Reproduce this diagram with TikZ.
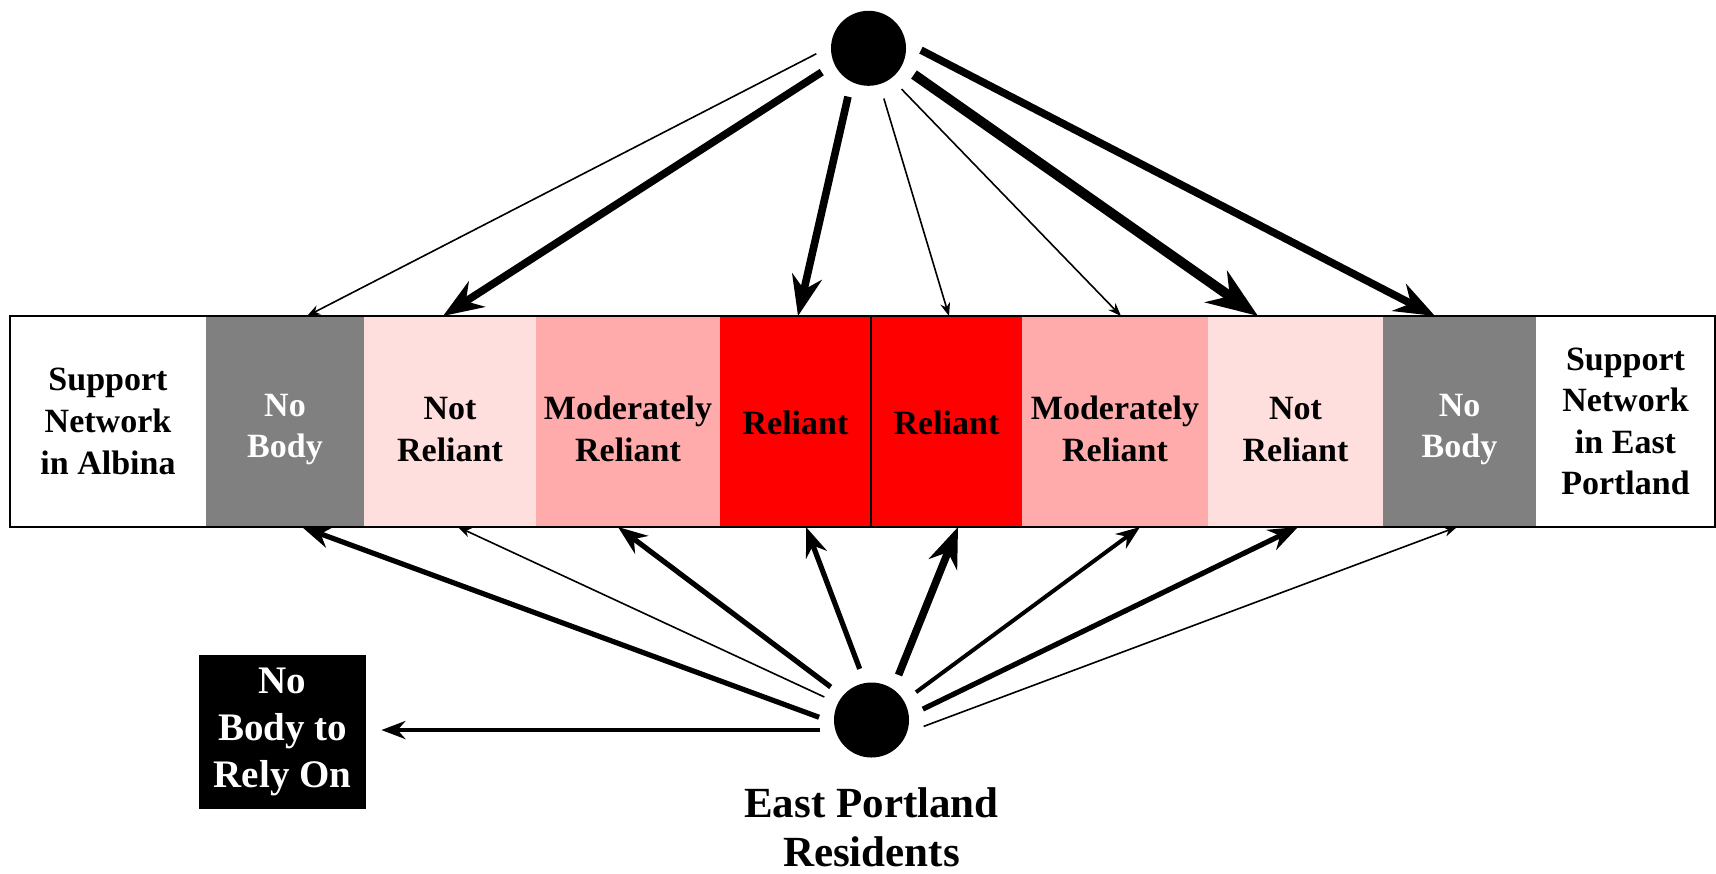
\documentclass[tikz,border=0pt]{standalone}
\usepackage{fontspec}
\setmainfont{Liberation Serif}
\usetikzlibrary{positioning, arrows.meta}

\begin{document}
\begin{tikzpicture}[x=0.5pt,y=-0.5pt,font=\bfseries\fontsize{17}{20.8}\selectfont,>={Stealth},node distance=0pt,
  c/.style={minimum width=#1,minimum height=105.5pt,inner sep=0pt,outer sep=0pt,align=center},
  two/.style={text height=40pt},
  dot/.style={circle,fill,minimum size=37.5pt,inner sep=0pt,outer sep=7.5pt},
  w1/.style={->,line width=.8pt},w2/.style={->,line width=2pt},w3/.style={->,line width=2.6pt},
  w4/.style={->,line width=3.8pt},w5/.style={->,line width=5pt}]
  \useasboundingbox (0,0) rectangle (1716,873);
  % the bar of support levels
  \node[c=98pt](alb) at (108,421.5){Support\\Network\\in Albina};
  \node[c=79pt,two,fill=black!50,text=white,right=of alb](nb1){No\\Body};
  \node[c=86pt,two,fill=red!13,right=of nb1](nr1){Not\\Reliant};
  \node[c=92pt,two,fill=red!33,right=of nr1](mr1){Moderately\\Reliant};
  \node[c=75.5pt,text height=13pt,fill=red,right=of mr1](r1){Reliant};
  \node[c=75.5pt,text height=13pt,fill=red,right=of r1](r2){Reliant};
  \node[c=93pt,two,fill=red!33,right=of r2](mr2){Moderately\\Reliant};
  \node[c=87.5pt,two,fill=red!13,right=of mr2](nr2){Not\\Reliant};
  \node[c=76.5pt,two,fill=black!50,text=white,right=of nr2](nb2){No\\Body};
  \node[c=89.5pt,right=of nb2](ep){Support\\Network\\in East\\Portland};
  \draw[line width=1pt](alb.north west) rectangle (ep.south east);
  \draw[line width=1pt](r1.north east)--(r1.south east);
  % the two groups
  \node[dot](top) at (868.5,48.3){};
  \node[dot](res) at (871.5,720){};
  \node[below=7.5pt of res,inner sep=0pt,align=center,font=\bfseries\fontsize{21.5}{24.5}\selectfont](lbl){East Portland\\Residents};
  \node[fill=black,text=white,minimum width=83.5pt,minimum height=77pt,inner sep=0pt,align=center,
    font=\bfseries\fontsize{19.5}{23.5}\selectfont](none) at (282.5,732){No\\Body to\\Rely On};
  % from the top
  \draw[w1](top.186)--([xshift=11pt]nb1.north);\draw[w4](top.207)--([xshift=-3.5pt]nr1.north);
  \draw[w4](top.247)--([xshift=1.25pt]r1.north);\draw[w1](top.287)--([xshift=1.25pt]r2.north);
  \draw[w1](top.309)--([xshift=3pt]mr2.north);\draw[w5](top.330)--([xshift=-18.75pt]nr2.north);
  \draw[w4](top.358)--([xshift=-12.25pt]nb2.north);
  % from the residents
  \draw[w2,shorten >=7.5pt](res.191)--(res.191 -| none.east);
  \draw[w3](res.177)--([xshift=8.5pt]nb1.south);\draw[w1](res.154)--([xshift=4pt]nr1.south);
  \draw[w3](res.141)--([xshift=-5pt]mr1.south);\draw[w3](res.103)--([xshift=5.25pt]r1.south);
  \draw[w4](res.59)--([xshift=5.75pt]r2.south);\draw[w2](res.32)--([xshift=12.5pt]mr2.south);
  \draw[w3](res.12)--([xshift=1.25pt]nr2.south);\draw[w1](res.353)--([xshift=-1.25pt]nb2.south);
\end{tikzpicture}
\end{document}
